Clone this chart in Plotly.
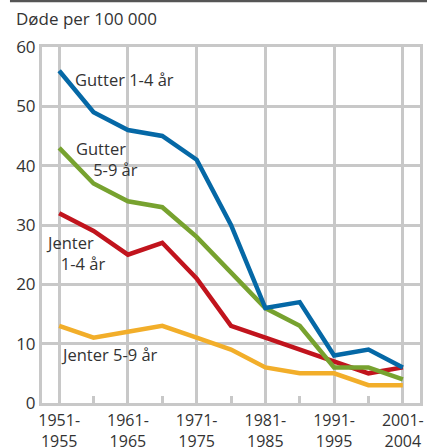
import plotly.graph_objects as go

periods = ["1951-1955", "1956-1960", "1961-1965", "1966-1970", "1971-1975",
           "1976-1980", "1981-1985", "1986-1990", "1991-1995", "1996-2000", "2001-2004"]
tick_labels = ["1951-<br>1955", "1961-<br>1965", "1971-<br>1975",
               "1981-<br>1985", "1991-<br>1995", "2001-<br>2004"]

gutter_1_4 = [56, 49, 46, 45, 41, 30, 16, 17, 8, 9, 6]
gutter_5_9 = [43, 37, 34, 33, 28, 22, 16, 13, 6, 6, 4]
jenter_1_4 = [32, 29, 25, 27, 21, 13, 11, 9, 7, 5, 6]
jenter_5_9 = [13, 11, 12, 13, 11, 9, 6, 5, 5, 3, 3]

series = [
    ("Jenter 5-9 år", jenter_5_9, "#f2ae2a"),
    ("Jenter 1-4 år", jenter_1_4, "#c1141d"),
    ("Gutter 5-9 år", gutter_5_9, "#77a22f"),
    ("Gutter 1-4 år", gutter_1_4, "#0568a6"),
]

idx = list(range(len(periods)))
FONT = "Open Sans"
GRID = "#c8c8c8"
TXT = "#333333"

fig = go.Figure()
for name, vals, col in series:
    fig.add_trace(go.Scatter(x=idx, y=vals, mode="lines", name=name,
                             line=dict(color=col, width=4.5),
                             customdata=periods,
                             hovertemplate="%{customdata}: %{y}<extra>" + name + "</extra>"))

NB = "&nbsp;"
labels = [
    ("Gutter 1-4 år", 0.44, 54.6),
    ("Gutter<br>" + NB * 4 + "5-9 år", 0.47, 41.2),
    ("Jenter<br>" + NB * 3 + "1-4 år", -0.41, 25.3),
    ("Jenter 5-9 år", 0.03, 8.1),
]
for txt, x, y in labels:
    fig.add_annotation(x=x, y=y, text=txt, showarrow=False, xanchor="left",
                       yanchor="middle", align="left", borderpad=0,
                       font=dict(family=FONT, size=16.5, color=TXT))

fig.add_annotation(xref="paper", yref="paper", x=-0.074, y=1.079, text="Døde per 100 000",
                   showarrow=False, xanchor="left", yanchor="middle",
                   font=dict(family=FONT, size=17, color=TXT))

fig.add_shape(type="line", xref="paper", yref="paper", x0=-0.0847, x1=1.02,
              y0=1.129, y1=1.129, line=dict(color="#555", width=2.5))

fig.update_layout(
    template="none",
    width=427, height=447,
    margin=dict(l=42, r=7, t=47, b=44),
    paper_bgcolor="white", plot_bgcolor="white",
    showlegend=False,
    font=dict(family=FONT, size=17, color=TXT),
    xaxis=dict(range=[-0.5, 10.5], tickmode="array", tickvals=[0, 2, 4, 6, 8, 10],
               ticktext=tick_labels, showgrid=True, gridcolor=GRID, gridwidth=3,
               ticks="", showline=True, linecolor=GRID, linewidth=3, mirror=True,
               zeroline=False, tickfont=dict(size=16), automargin=False,
               ticklabelstandoff=1,
               minor=dict(tickmode="array", tickvals=[1, 3, 5, 7, 9], ticks="inside",
                          ticklen=7, tickcolor=GRID, tickwidth=3, showgrid=False)),
    yaxis=dict(range=[0, 60], tickmode="array", tickvals=[0, 10, 20, 30, 40, 50, 60],
               showgrid=True, gridcolor=GRID, gridwidth=3, ticks="",
               showline=True, linecolor=GRID, linewidth=3, mirror=True,
               zeroline=False, tickfont=dict(size=17), automargin=False),
)

fig.write_html("out.html", config={"displayModeBar": False},
               post_script="document.body.style.margin='0';")
